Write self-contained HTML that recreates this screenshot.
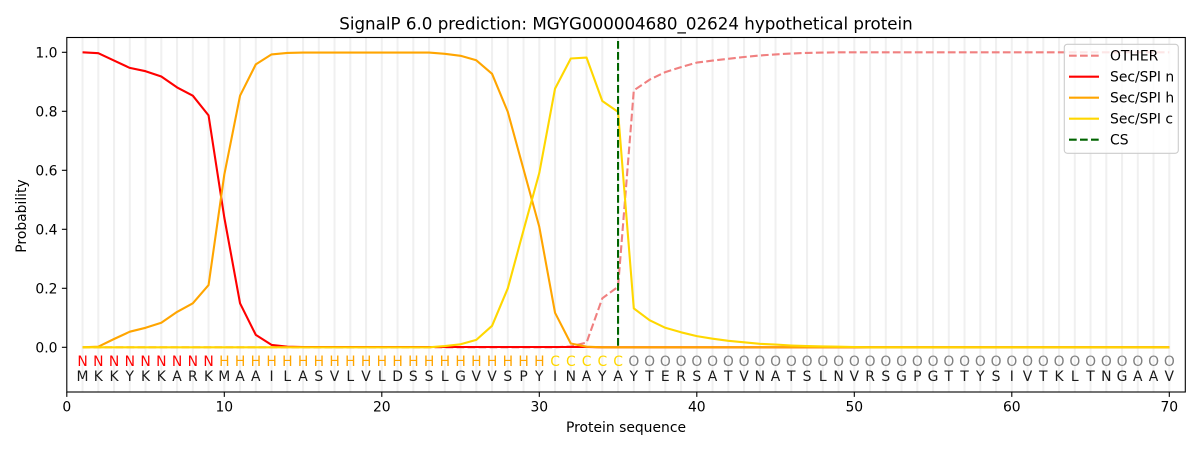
<!DOCTYPE html>
<html><head><meta charset="utf-8"><style>
html,body{margin:0;padding:0;background:#fff;}
svg{display:block;font-family:"DejaVu Sans","Liberation Sans",sans-serif;}
</style></head><body>
<svg width="1200" height="450" viewBox="0 0 1200 450" xmlns="http://www.w3.org/2000/svg">
<rect width="1200" height="450" fill="#fff"/>
<!-- grid -->
<g stroke="#f0f0f0" stroke-width="2">
<line x1="82.55" y1="37.5" x2="82.55" y2="392"/><line x1="98.3" y1="37.5" x2="98.3" y2="392"/><line x1="114.05" y1="37.5" x2="114.05" y2="392"/><line x1="129.8" y1="37.5" x2="129.8" y2="392"/><line x1="145.55" y1="37.5" x2="145.55" y2="392"/><line x1="161.3" y1="37.5" x2="161.3" y2="392"/><line x1="177.05" y1="37.5" x2="177.05" y2="392"/><line x1="192.8" y1="37.5" x2="192.8" y2="392"/><line x1="208.55" y1="37.5" x2="208.55" y2="392"/><line x1="224.3" y1="37.5" x2="224.3" y2="392"/>
<line x1="240.05" y1="37.5" x2="240.05" y2="392"/><line x1="255.8" y1="37.5" x2="255.8" y2="392"/><line x1="271.55" y1="37.5" x2="271.55" y2="392"/><line x1="287.3" y1="37.5" x2="287.3" y2="392"/><line x1="303.05" y1="37.5" x2="303.05" y2="392"/><line x1="318.8" y1="37.5" x2="318.8" y2="392"/><line x1="334.55" y1="37.5" x2="334.55" y2="392"/><line x1="350.3" y1="37.5" x2="350.3" y2="392"/><line x1="366.05" y1="37.5" x2="366.05" y2="392"/><line x1="381.8" y1="37.5" x2="381.8" y2="392"/>
<line x1="397.55" y1="37.5" x2="397.55" y2="392"/><line x1="413.3" y1="37.5" x2="413.3" y2="392"/><line x1="429.05" y1="37.5" x2="429.05" y2="392"/><line x1="444.8" y1="37.5" x2="444.8" y2="392"/><line x1="460.55" y1="37.5" x2="460.55" y2="392"/><line x1="476.3" y1="37.5" x2="476.3" y2="392"/><line x1="492.05" y1="37.5" x2="492.05" y2="392"/><line x1="507.8" y1="37.5" x2="507.8" y2="392"/><line x1="523.55" y1="37.5" x2="523.55" y2="392"/><line x1="539.3" y1="37.5" x2="539.3" y2="392"/>
<line x1="555.05" y1="37.5" x2="555.05" y2="392"/><line x1="570.8" y1="37.5" x2="570.8" y2="392"/><line x1="586.55" y1="37.5" x2="586.55" y2="392"/><line x1="602.3" y1="37.5" x2="602.3" y2="392"/><line x1="618.05" y1="37.5" x2="618.05" y2="392"/><line x1="633.8" y1="37.5" x2="633.8" y2="392"/><line x1="649.55" y1="37.5" x2="649.55" y2="392"/><line x1="665.3" y1="37.5" x2="665.3" y2="392"/><line x1="681.05" y1="37.5" x2="681.05" y2="392"/><line x1="696.8" y1="37.5" x2="696.8" y2="392"/>
<line x1="712.55" y1="37.5" x2="712.55" y2="392"/><line x1="728.3" y1="37.5" x2="728.3" y2="392"/><line x1="744.05" y1="37.5" x2="744.05" y2="392"/><line x1="759.8" y1="37.5" x2="759.8" y2="392"/><line x1="775.55" y1="37.5" x2="775.55" y2="392"/><line x1="791.3" y1="37.5" x2="791.3" y2="392"/><line x1="807.05" y1="37.5" x2="807.05" y2="392"/><line x1="822.8" y1="37.5" x2="822.8" y2="392"/><line x1="838.55" y1="37.5" x2="838.55" y2="392"/><line x1="854.3" y1="37.5" x2="854.3" y2="392"/>
<line x1="870.05" y1="37.5" x2="870.05" y2="392"/><line x1="885.8" y1="37.5" x2="885.8" y2="392"/><line x1="901.55" y1="37.5" x2="901.55" y2="392"/><line x1="917.3" y1="37.5" x2="917.3" y2="392"/><line x1="933.05" y1="37.5" x2="933.05" y2="392"/><line x1="948.8" y1="37.5" x2="948.8" y2="392"/><line x1="964.55" y1="37.5" x2="964.55" y2="392"/><line x1="980.3" y1="37.5" x2="980.3" y2="392"/><line x1="996.05" y1="37.5" x2="996.05" y2="392"/><line x1="1011.8" y1="37.5" x2="1011.8" y2="392"/>
<line x1="1027.55" y1="37.5" x2="1027.55" y2="392"/><line x1="1043.3" y1="37.5" x2="1043.3" y2="392"/><line x1="1059.05" y1="37.5" x2="1059.05" y2="392"/><line x1="1074.8" y1="37.5" x2="1074.8" y2="392"/><line x1="1090.55" y1="37.5" x2="1090.55" y2="392"/><line x1="1106.3" y1="37.5" x2="1106.3" y2="392"/><line x1="1122.05" y1="37.5" x2="1122.05" y2="392"/><line x1="1137.8" y1="37.5" x2="1137.8" y2="392"/><line x1="1153.55" y1="37.5" x2="1153.55" y2="392"/><line x1="1169.3" y1="37.5" x2="1169.3" y2="392"/>
</g>
<!-- series -->
<g fill="none" stroke-width="2.1" stroke-linejoin="round">
<polyline stroke="#f08080" stroke-dasharray="7.7,3.3" points="82.55,347.3 555.05,347.3 570.8,346.4 586.55,342.6 602.3,298.3 618.05,286.8 633.8,90.4 649.55,79.7 665.3,72.1 681.05,67.1 696.8,62.6 712.55,60.6 728.3,58.8 744.05,57.0 759.8,55.5 775.55,54.4 791.3,53.5 807.05,52.9 822.8,52.6 838.55,52.3 1169.3,52.3"/>
<polyline stroke="#ff0000" points="82.55,52.3 98.3,53.2 114.05,60.6 129.8,67.9 145.55,71.2 161.3,76.5 177.05,87.4 192.8,95.7 208.55,115.4 224.3,217.5 240.05,303.3 255.8,334.9 271.55,344.9 287.3,346.7 303.05,347.0 586.55,347.0 602.3,347.3 1169.3,347.3"/>
<polyline stroke="#ffa500" points="82.55,347.3 98.3,346.7 114.05,339.0 129.8,331.7 145.55,327.8 161.3,322.8 177.05,311.9 192.8,303.3 208.55,285.1 224.3,174.7 240.05,95.7 255.8,64.4 271.55,54.4 287.3,52.9 303.05,52.6 429.05,52.6 444.8,53.8 460.55,55.8 476.3,60.3 492.05,73.8 507.8,111.9 523.55,169.4 539.3,226.9 555.05,312.8 570.8,343.5 586.55,346.7 602.3,347.3 1169.3,347.3"/>
<polyline stroke="#ffd700" points="82.55,347.3 429.05,347.3 444.8,346.1 460.55,344.3 476.3,339.9 492.05,325.8 507.8,288.3 523.55,230.2 539.3,172.9 555.05,88.6 570.8,58.5 586.55,57.6 602.3,101.0 618.05,111.9 633.8,308.4 649.55,320.2 665.3,327.8 681.05,332.3 696.8,336.1 712.55,338.7 728.3,340.8 744.05,342.3 759.8,343.8 775.55,344.6 791.3,345.5 807.05,346.1 822.8,346.4 838.55,346.7 854.3,347.0 870.05,347.3 1169.3,347.3"/>
<line x1="618.05" y1="41" x2="618.05" y2="347.3" stroke="#006400" stroke-dasharray="7.7,3.3"/>
</g>
<!-- residue labels -->
<g font-size="13.9" text-anchor="middle">
<g fill="#ff0000"><text x="82.55" y="366">N</text><text x="98.3" y="366">N</text><text x="114.05" y="366">N</text><text x="129.8" y="366">N</text><text x="145.55" y="366">N</text><text x="161.3" y="366">N</text><text x="177.05" y="366">N</text><text x="192.8" y="366">N</text><text x="208.55" y="366">N</text></g>
<g fill="#ffa500"><text x="224.3" y="366">H</text><text x="240.05" y="366">H</text><text x="255.8" y="366">H</text><text x="271.55" y="366">H</text><text x="287.3" y="366">H</text><text x="303.05" y="366">H</text><text x="318.8" y="366">H</text><text x="334.55" y="366">H</text><text x="350.3" y="366">H</text><text x="366.05" y="366">H</text><text x="381.8" y="366">H</text><text x="397.55" y="366">H</text><text x="413.3" y="366">H</text><text x="429.05" y="366">H</text><text x="444.8" y="366">H</text><text x="460.55" y="366">H</text><text x="476.3" y="366">H</text><text x="492.05" y="366">H</text><text x="507.8" y="366">H</text><text x="523.55" y="366">H</text><text x="539.3" y="366">H</text></g>
<g fill="#ffd700"><text x="555.05" y="366">C</text><text x="570.8" y="366">C</text><text x="586.55" y="366">C</text><text x="602.3" y="366">C</text><text x="618.05" y="366">C</text></g>
<g fill="#808080"><text x="633.8" y="366">O</text><text x="649.55" y="366">O</text><text x="665.3" y="366">O</text><text x="681.05" y="366">O</text><text x="696.8" y="366">O</text><text x="712.55" y="366">O</text><text x="728.3" y="366">O</text><text x="744.05" y="366">O</text><text x="759.8" y="366">O</text><text x="775.55" y="366">O</text><text x="791.3" y="366">O</text><text x="807.05" y="366">O</text><text x="822.8" y="366">O</text><text x="838.55" y="366">O</text><text x="854.3" y="366">O</text><text x="870.05" y="366">O</text><text x="885.8" y="366">O</text><text x="901.55" y="366">O</text><text x="917.3" y="366">O</text><text x="933.05" y="366">O</text><text x="948.8" y="366">O</text><text x="964.55" y="366">O</text><text x="980.3" y="366">O</text><text x="996.05" y="366">O</text><text x="1011.8" y="366">O</text><text x="1027.55" y="366">O</text><text x="1043.3" y="366">O</text><text x="1059.05" y="366">O</text><text x="1074.8" y="366">O</text><text x="1090.55" y="366">O</text><text x="1106.3" y="366">O</text><text x="1122.05" y="366">O</text><text x="1137.8" y="366">O</text><text x="1153.55" y="366">O</text><text x="1169.3" y="366">O</text></g>
<g fill="#1a1a1a">
<text x="82.55" y="381">M</text><text x="98.3" y="381">K</text><text x="114.05" y="381">K</text><text x="129.8" y="381">Y</text><text x="145.55" y="381">K</text><text x="161.3" y="381">K</text><text x="177.05" y="381">A</text><text x="192.8" y="381">R</text><text x="208.55" y="381">K</text><text x="224.3" y="381">M</text>
<text x="240.05" y="381">A</text><text x="255.8" y="381">A</text><text x="271.55" y="381">I</text><text x="287.3" y="381">L</text><text x="303.05" y="381">A</text><text x="318.8" y="381">S</text><text x="334.55" y="381">V</text><text x="350.3" y="381">L</text><text x="366.05" y="381">V</text><text x="381.8" y="381">L</text>
<text x="397.55" y="381">D</text><text x="413.3" y="381">S</text><text x="429.05" y="381">S</text><text x="444.8" y="381">L</text><text x="460.55" y="381">G</text><text x="476.3" y="381">V</text><text x="492.05" y="381">V</text><text x="507.8" y="381">S</text><text x="523.55" y="381">P</text><text x="539.3" y="381">Y</text>
<text x="555.05" y="381">I</text><text x="570.8" y="381">N</text><text x="586.55" y="381">A</text><text x="602.3" y="381">Y</text><text x="618.05" y="381">A</text><text x="633.8" y="381">Y</text><text x="649.55" y="381">T</text><text x="665.3" y="381">E</text><text x="681.05" y="381">R</text><text x="696.8" y="381">S</text>
<text x="712.55" y="381">A</text><text x="728.3" y="381">T</text><text x="744.05" y="381">V</text><text x="759.8" y="381">N</text><text x="775.55" y="381">A</text><text x="791.3" y="381">T</text><text x="807.05" y="381">S</text><text x="822.8" y="381">L</text><text x="838.55" y="381">N</text><text x="854.3" y="381">V</text>
<text x="870.05" y="381">R</text><text x="885.8" y="381">S</text><text x="901.55" y="381">G</text><text x="917.3" y="381">P</text><text x="933.05" y="381">G</text><text x="948.8" y="381">T</text><text x="964.55" y="381">T</text><text x="980.3" y="381">Y</text><text x="996.05" y="381">S</text><text x="1011.8" y="381">I</text>
<text x="1027.55" y="381">V</text><text x="1043.3" y="381">T</text><text x="1059.05" y="381">K</text><text x="1074.8" y="381">L</text><text x="1090.55" y="381">T</text><text x="1106.3" y="381">N</text><text x="1122.05" y="381">G</text><text x="1137.8" y="381">A</text><text x="1153.55" y="381">A</text><text x="1169.3" y="381">V</text>
</g>
</g>
<!-- axes frame -->
<rect x="66.8" y="37.5" width="1118.5" height="354.5" fill="none" stroke="#000" stroke-width="1.1"/>
<!-- ticks -->
<g stroke="#000" stroke-width="1.1">
<line x1="66.8" y1="392" x2="66.8" y2="396.9"/><line x1="224.3" y1="392" x2="224.3" y2="396.9"/><line x1="381.8" y1="392" x2="381.8" y2="396.9"/><line x1="539.3" y1="392" x2="539.3" y2="396.9"/><line x1="696.8" y1="392" x2="696.8" y2="396.9"/><line x1="854.3" y1="392" x2="854.3" y2="396.9"/><line x1="1011.8" y1="392" x2="1011.8" y2="396.9"/><line x1="1169.3" y1="392" x2="1169.3" y2="396.9"/>
<line x1="61.9" y1="347.3" x2="66.8" y2="347.3"/><line x1="61.9" y1="288.3" x2="66.8" y2="288.3"/><line x1="61.9" y1="229.3" x2="66.8" y2="229.3"/><line x1="61.9" y1="170.3" x2="66.8" y2="170.3"/><line x1="61.9" y1="111.3" x2="66.8" y2="111.3"/><line x1="61.9" y1="52.3" x2="66.8" y2="52.3"/>
</g>
<g font-size="13.9" fill="#000" text-anchor="middle">
<text x="66.8" y="411.7">0</text><text x="224.3" y="411.7">10</text><text x="381.8" y="411.7">20</text><text x="539.3" y="411.7">30</text><text x="696.8" y="411.7">40</text><text x="854.3" y="411.7">50</text><text x="1011.8" y="411.7">60</text><text x="1169.3" y="411.7">70</text>
</g>
<g font-size="13.9" fill="#000" text-anchor="end">
<text x="57.5" y="352.3">0.0</text><text x="57.5" y="293.3">0.2</text><text x="57.5" y="234.3">0.4</text><text x="57.5" y="175.3">0.6</text><text x="57.5" y="116.3">0.8</text><text x="57.5" y="57.3">1.0</text>
</g>
<text x="626" y="432" font-size="13.9" text-anchor="middle" fill="#000">Protein sequence</text>
<text transform="translate(26,216) rotate(-90)" font-size="13.9" text-anchor="middle" fill="#000">Probability</text>
<text x="626" y="29.3" font-size="16.7" text-anchor="middle" fill="#000">SignalP 6.0 prediction: MGYG000004680_02624 hypothetical protein</text>
<!-- legend -->
<rect x="1064.3" y="44.3" width="114" height="109" rx="3" ry="3" fill="#fff" fill-opacity="0.8" stroke="#cccccc" stroke-width="1.1"/>
<g stroke-width="2.1" fill="none">
<line x1="1069" y1="55.7" x2="1099" y2="55.7" stroke="#f08080" stroke-dasharray="7.7,3.3"/>
<line x1="1069" y1="76.7" x2="1099" y2="76.7" stroke="#ff0000"/>
<line x1="1069" y1="97.7" x2="1099" y2="97.7" stroke="#ffa500"/>
<line x1="1069" y1="118.7" x2="1099" y2="118.7" stroke="#ffd700"/>
<line x1="1069" y1="139.7" x2="1099" y2="139.7" stroke="#006400" stroke-dasharray="7.7,3.3"/>
</g>
<g font-size="13.9" fill="#000">
<text x="1110" y="60.7">OTHER</text><text x="1110" y="81.7">Sec/SPI n</text><text x="1110" y="102.7">Sec/SPI h</text><text x="1110" y="123.7">Sec/SPI c</text><text x="1110" y="144.7">CS</text>
</g>
</svg>
</body></html>
